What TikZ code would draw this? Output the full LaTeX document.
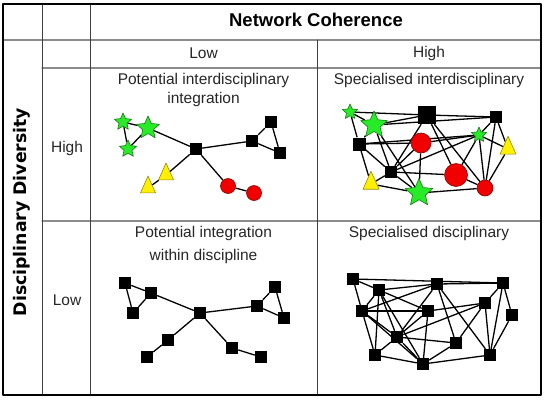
\documentclass[tikz,border=0pt]{standalone}
\usepackage{fontspec}
\setmainfont{Liberation Sans}
\newfontfamily\sidefont{DejaVu Sans}
\usetikzlibrary{shapes.geometric,backgrounds}
\definecolor{stargreen}{RGB}{40,235,40}
\definecolor{stardark}{RGB}{20,120,20}
\definecolor{triyellow}{RGB}{255,240,0}
\definecolor{tridark}{RGB}{150,140,0}
\definecolor{dotred}{RGB}{240,0,0}
\definecolor{dotdark}{RGB}{140,0,0}
\begin{document}
\begin{tikzpicture}[line join = round, line cap = round, x = 1pt, y = -1pt,
	txt/.style = {font=\fontsize{15.5}{19}\selectfont, text=black!85},
	rule/.style = {line width=1pt, black!75},
	hrule/.style = {line width=1.2pt, black!45},
	link/.style = {line width=1.3pt},
	sq/.style = {rectangle, fill=black, inner sep=0pt},
	grn/.style = {star, star points=5, star point ratio=2.15, fill=stargreen, draw=stardark, line width=0.6pt, inner sep=0pt},
	yel/.style = {isosceles triangle, isosceles triangle apex angle=48, shape border rotate=90, fill=triyellow, draw=tridark, line width=0.6pt, inner sep=0pt},
	red/.style = {circle, fill=dotred, draw=dotdark, line width=0.6pt, inner sep=0pt}]
	\useasboundingbox (0,0) rectangle (548,402);
	%Ve khung bang
	\draw[hrule] (3,40)--(541,40);
	\draw[hrule] (42,68)--(541,68);
	\draw[hrule] (42,221)--(541,221);
	\draw[rule] (42,4)--(42,395);
	\draw[rule] (90,4)--(90,395);
	\draw[rule] (317,40)--(317,395);
	\draw[line width=2.5pt] (3,4) rectangle (541,395);
	%Ve cac nhan
	\node[font=\fontsize{18.5}{20}\selectfont\bfseries] (nc) at (316,20) {Network Coherence};
	\node[txt] (low) at (203.5,53) {Low};
	\node[txt] (high) at (429,53) {High};
	\node[txt, align=center] (t1) at (203.5,89.5) {Potential interdisciplinary\\integration};
	\node[txt] (t2) at (429,80) {Specialised interdisciplinary};
	\node[txt, align=center, font=\fontsize{15.5}{23}\selectfont] (t3) at (203.5,245) {Potential integration\\within discipline};
	\node[txt] (t4) at (429,233) {Specialised disciplinary};
	\node[txt] (rh) at (67,148) {High};
	\node[txt] (rl) at (67,300) {Low};
	\node[rotate=90, font=\sidefont\bfseries\fontsize{17.3}{20}\selectfont] (dd) at (22,212) {Disciplinary Diversity};
	%O tren trai
	\foreach \n/\x/\y/\s in {s1/123/122/18, s2/148/128/24, s3/128/149/18}
		\node[grn, minimum size=\s pt] (A\n) at (\x,\y) {};
	\foreach \n/\x/\y in {q1/196/149, q2/252/141, q3/271/122, q4/280/153}
		\node[sq, minimum size=12pt] (A\n) at (\x,\y) {};
	\foreach \n/\x/\y in {t1/166/175, t2/148/188}
		\node[yel, minimum height=13pt, minimum width=15pt] (A\n) at (\x,\y) {};
	\foreach \n/\x/\y in {c1/228/186, c2/254/193}
		\node[red, minimum size=15pt] (A\n) at (\x,\y) {};
	\begin{scope}[on background layer]
		\foreach \a/\b in {s1/s2, s1/s3, s3/s2, s2/q1, q1/q2, q2/q3, q3/q4, q2/q4, q1/t1, t1/t2, q1/c1, c1/c2}
			\draw[link] (A\a)--(A\b);
	\end{scope}
	%O tren phai
	\foreach \n/\x/\y/\s in {s1/350/112/16, s2/374/125/28, s3/479/135/16, s4/419/193/29}
		\node[grn, minimum size=\s pt] (B\n) at (\x,\y) {};
	\foreach \n/\x/\y/\s in {q1/427/115/18, q2/496/117/12, q3/359/144/13, q4/391/172/12}
		\node[sq, minimum size=\s pt] (B\n) at (\x,\y) {};
	\foreach \n/\x/\y/\s in {c1/421/143/20, c2/456/175/23, c3/485/188/16}
		\node[red, minimum size=\s pt] (B\n) at (\x,\y) {};
	\foreach \n/\x/\y/\s in {t1/508/149/14, t2/371/184/18}
		\node[yel, minimum height=\s pt, minimum width=16pt] (B\n) at (\x,\y) {};
	\begin{scope}[on background layer]
		\foreach \a/\b in {s1/q1, q1/q2, s1/s2, s1/q3, s2/q1, s2/q2, s2/q3, s2/q4, s2/s4, q3/s3, q3/q4, q3/t2, q1/q4, q1/c2, q1/c3, c1/q4, c1/s4, c1/s3, q4/s3, q4/c2, q4/t2, q4/s4, c2/c3, c2/s3, s3/c3, s3/t1, s3/q2, q2/c3, q2/t1, t1/c3, t2/s4, s4/c3, q3/c1}
			\draw[link] (B\a)--(B\b);
	\end{scope}
	%O duoi trai
	\foreach \n/\x/\y in {n1/125/283, n2/151/293, n3/133/313, n4/200/313, n5/257/306, n6/275/287, n7/284/318, n8/168/340, n9/147/357, n10/232/348, n11/261/357}
		\node[sq, minimum size=12pt] (C\n) at (\x,\y) {};
	\begin{scope}[on background layer]
		\foreach \a/\b in {n1/n2, n1/n3, n3/n2, n2/n4, n4/n5, n5/n6, n6/n7, n5/n7, n4/n8, n8/n9, n4/n10, n10/n11}
			\draw[link] (C\a)--(C\b);
	\end{scope}
	%O duoi phai
	\foreach \n/\x/\y in {n1/353/279, n2/379/290, n3/437/284, n4/503/283, n5/362/311, n6/428/311, n7/485/303, n8/512/315, n9/397/337, n10/456/343, n11/375/355, n12/423/364, n13/490/355}
		\node[sq, minimum size=12pt] (D\n) at (\x,\y) {};
	\begin{scope}[on background layer]
		\foreach \a/\b in {n1/n4, n1/n2, n1/n5, n2/n3, n2/n5, n2/n9, n2/n11, n2/n6, n2/n12, n3/n4, n3/n5, n3/n9, n3/n10, n3/n13, n4/n7, n4/n8, n4/n13, n5/n6, n5/n9, n5/n11, n5/n12, n6/n9, n6/n12, n6/n7, n7/n9, n7/n10, n7/n13, n8/n13, n9/n10, n9/n11, n9/n12, n10/n12, n11/n12, n12/n13}
			\draw[link] (D\a)--(D\b);
	\end{scope}
\end{tikzpicture}
\end{document}
